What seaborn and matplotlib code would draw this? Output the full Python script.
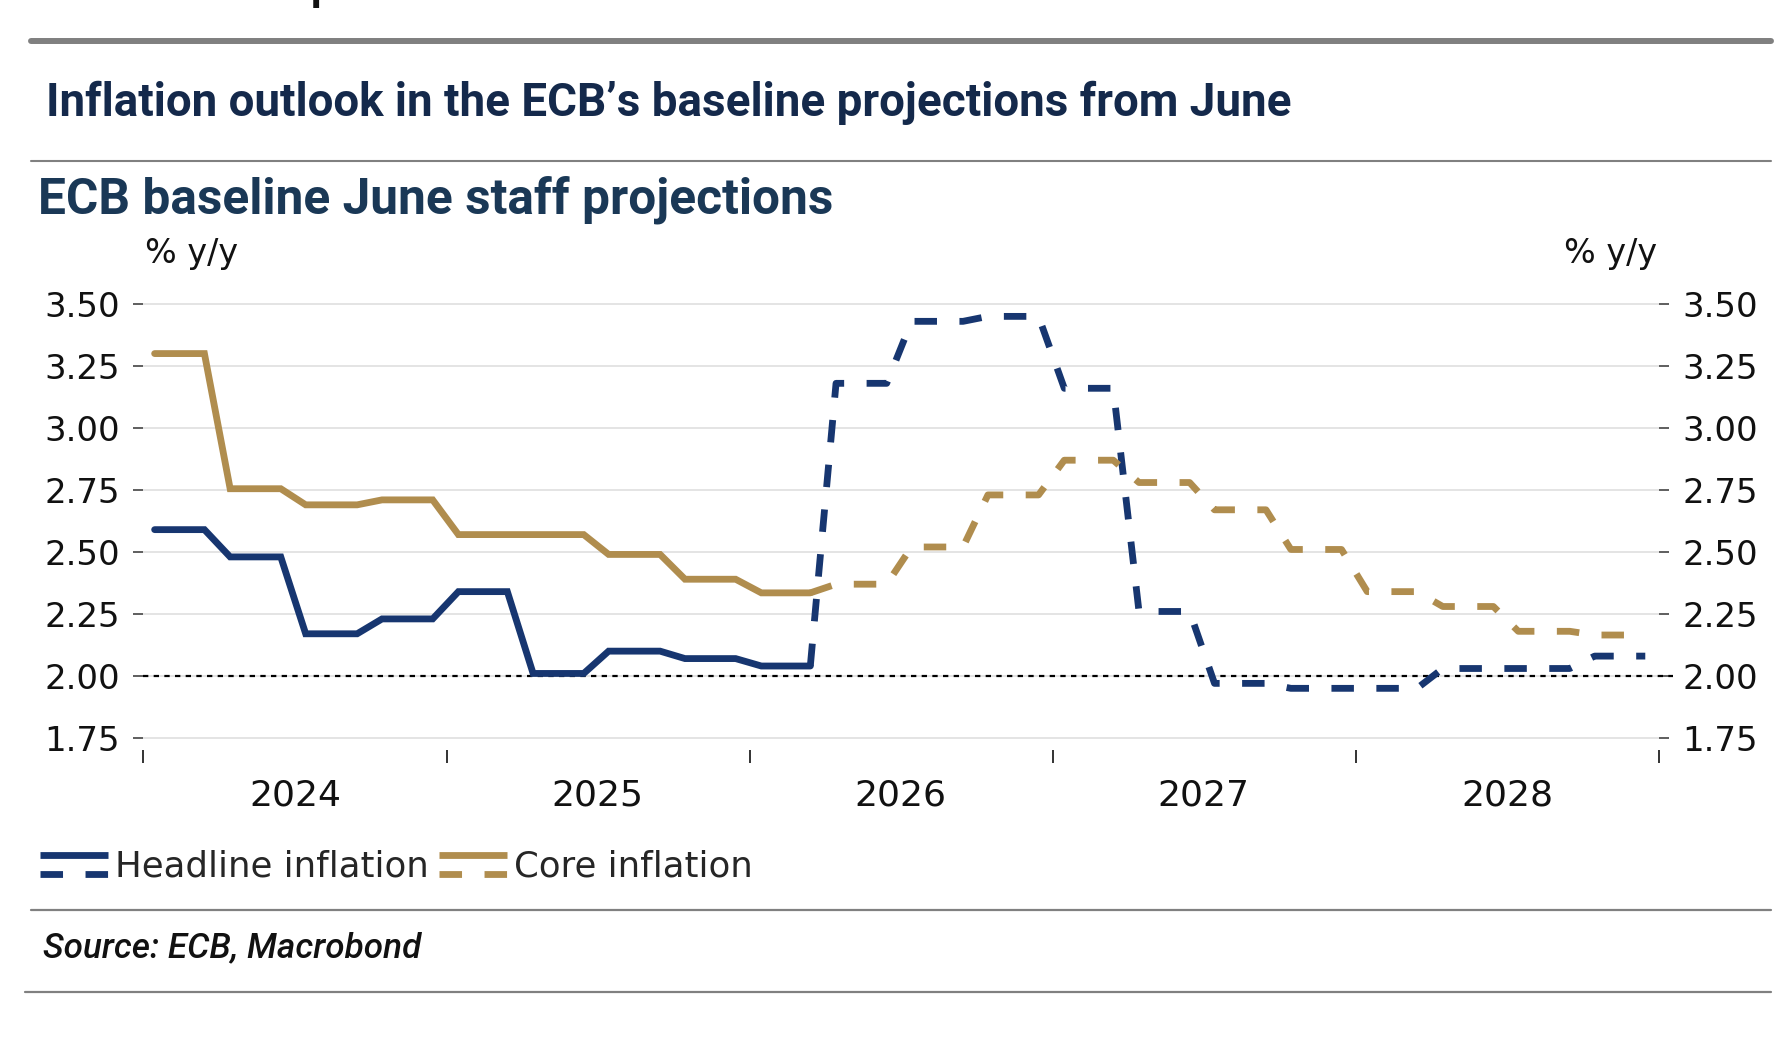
import matplotlib
matplotlib.use("Agg")
import matplotlib.dates as mdates
import matplotlib.pyplot as plt
import matplotlib.ticker as mticker
import numpy as np
import pandas as pd
import seaborn as sns
from matplotlib.legend_handler import HandlerBase
from matplotlib.lines import Line2D

# monthly values, Jan 2024 .. Mar 2026 (outturn)
headline_actual = [2.59, 2.59, 2.59, 2.48, 2.48, 2.48, 2.17, 2.17, 2.17,
                   2.23, 2.23, 2.23, 2.34, 2.34, 2.34, 2.01, 2.01, 2.01,
                   2.10, 2.10, 2.10, 2.07, 2.07, 2.07, 2.04, 2.04, 2.04]
core_actual = [3.30, 3.30, 3.30, 2.755, 2.755, 2.755, 2.69, 2.69, 2.69,
               2.71, 2.71, 2.71, 2.57, 2.57, 2.57, 2.57, 2.57, 2.57,
               2.49, 2.49, 2.49, 2.39, 2.39, 2.39, 2.335, 2.335, 2.335]

# monthly values, Apr 2026 .. Dec 2028 (projection)
headline_proj = [3.18, 3.18, 3.18, 3.43, 3.43, 3.43, 3.45, 3.45, 3.45,
                 3.16, 3.16, 3.16, 2.26, 2.26, 2.26, 1.97, 1.97, 1.97,
                 1.95, 1.95, 1.95, 1.95, 1.95, 1.95, 2.03, 2.03, 2.03,
                 2.03, 2.03, 2.03, 2.08, 2.08, 2.08]
core_proj = [2.37, 2.37, 2.37, 2.52, 2.52, 2.52, 2.73, 2.73, 2.73,
             2.87, 2.87, 2.87, 2.78, 2.78, 2.78, 2.67, 2.67, 2.67,
             2.51, 2.51, 2.51, 2.34, 2.34, 2.34, 2.28, 2.28, 2.28,
             2.18, 2.18, 2.18, 2.165, 2.165, 2.165]

y_ticks = [1.75, 2.00, 2.25, 2.50, 2.75, 3.00, 3.25, 3.50]
years = [2024, 2025, 2026, 2027, 2028]

NAVY = "#173670"
GOLD = "#B08D4E"
GREY = "#808080"
W, H = 1792, 1050

months = pd.date_range("2024-01-01", periods=60, freq="MS") + pd.Timedelta(days=14)
n_act = len(headline_actual)

rows = []
for name, act, proj in [("Headline inflation", headline_actual, headline_proj),
                        ("Core inflation", core_actual, core_proj)]:
    for d, v in zip(months[:n_act], act):
        rows.append({"date": d, "value": v, "series": name, "kind": "Actual"})
    # projection starts from the last outturn so the line is continuous
    for d, v in zip(months[n_act - 1:], [act[-1]] + proj):
        rows.append({"date": d, "value": v, "series": name, "kind": "Projection"})
df = pd.DataFrame(rows)

sns.set_theme(style="white")
plt.rcParams["font.family"] = ["DejaVu Sans"]

fig = plt.figure(figsize=(W / 100, H / 100), dpi=100)
ax = fig.add_axes([0.0798, 0.2854, 0.8462, 0.4369])

sns.lineplot(
    data=df, x="date", y="value", hue="series", style="kind",
    palette={"Headline inflation": NAVY, "Core inflation": GOLD},
    dashes={"Actual": "", "Projection": (3.3, 3.3)},
    estimator=None, linewidth=4.9, legend=False, ax=ax,
    solid_joinstyle="miter",
)
ax.set(xlabel="", ylabel="")

ax.axhline(2.0, color="black", lw=1.6, ls=(0, (2.4, 2.4)), xmax=1.009,
           clip_on=False, zorder=1.5)

# axes styling
for s in ax.spines.values():
    s.set_visible(False)
ax.set_ylim(1.70, 3.55)
ax.set_xlim(pd.Timestamp("2024-01-01"), pd.Timestamp("2029-01-01"))
ax.set_yticks(y_ticks)
ax.yaxis.set_major_formatter(mticker.FormatStrFormatter("%.2f"))
ax.yaxis.grid(True, color="#e2e2e2", lw=1.3)
ax.xaxis.grid(False)
ax.tick_params(axis="y", left=True, right=True, labelleft=True, labelright=True,
               length=7.5, width=1.1, color="#333333", pad=9,
               labelsize=24.5, labelcolor="#111111", direction="out")

ax.xaxis.set_major_locator(mdates.YearLocator())
ax.xaxis.set_major_formatter(mticker.NullFormatter())
ax.xaxis.set_minor_locator(mticker.FixedLocator(
    [mdates.date2num(pd.Timestamp(f"{y}-07-02")) for y in years]))
ax.xaxis.set_minor_formatter(mticker.FixedFormatter([str(y) for y in years]))
ax.tick_params(axis="x", which="major", length=9, width=1.4, color="#333333",
               direction="out", bottom=True)
ax.tick_params(axis="x", which="minor", length=0, pad=20, labelsize=26,
               labelcolor="#111111")

fig.text(145 / W, 1 - 254 / H, "% y/y", fontsize=24, va="center", ha="left",
         color="#111111")
fig.text(1657 / W, 1 - 254 / H, "% y/y", fontsize=24, va="center", ha="right",
         color="#111111")


# legend: solid bar on top, dashed bar below
class SplitHandler(HandlerBase):
    def create_artists(self, legend, orig_handle, xdescent, ydescent,
                       width, height, fontsize, trans):
        c = orig_handle.get_color()
        lw = 4.9
        x0, x1 = -xdescent, -xdescent + width
        top = Line2D([x0, x1], [0.8 * height - ydescent] * 2, color=c, lw=lw,
                     solid_capstyle="butt", transform=trans)
        seg = width / 3 / lw
        bot = Line2D([x0, x1], [0.2 * height - ydescent] * 2, color=c, lw=lw,
                     ls=(0, (seg, seg)), dash_capstyle="butt", transform=trans)
        return [top, bot]


handles = [Line2D([], [], color=NAVY), Line2D([], [], color=GOLD)]
fig.legend(handles, ["Headline inflation", "Core inflation"],
           handler_map={Line2D: SplitHandler()},
           loc="center left", bbox_to_anchor=(40 / W, 1 - 866 / H),
           ncol=2, frameon=False, fontsize=25.6, handlelength=1.9,
           handleheight=1.0, handletextpad=0.2, columnspacing=0.3,
           borderpad=0, borderaxespad=0)

# header / footer text
title = fig.text(46 / W, 1 - 103 / H, "Inflation outlook in the ECB’s baseline projections from June",
                 fontsize=30, fontweight="bold", color="#14294B", va="center",
                 family="Roboto")
subtitle = fig.text(38 / W, 1 - 200 / H, "ECB baseline June staff projections",
                    fontsize=30, fontweight="bold", color="#1A3856", va="center",
                    family="Roboto")
source = fig.text(43 / W, 1 - 948 / H, "Source: ECB, Macrobond", fontsize=22,
                  fontstyle="italic", fontweight="medium", color="#111111",
                  va="center", family="Roboto")
fig.text(311 / W, 1 + 1 / H, "p", fontsize=30, fontweight="bold", color="#111111",
         va="baseline", family="Roboto")

# scale header/footer text to the reference widths
fig.canvas.draw()
renderer = fig.canvas.get_renderer()
for t, target in [(title, 1243), (subtitle, 794), (source, 378)]:
    w = t.get_window_extent(renderer).width
    t.set_fontsize(t.get_fontsize() * target / w)

# separator rules
for y, lw, x0 in [(41, 4.3, 31), (161, 1.5, 31), (910, 1.6, 31), (992, 1.6, 25)]:
    fig.add_artist(Line2D([x0 / W, 1771 / W], [1 - y / H] * 2, color=GREY, lw=lw,
                          transform=fig.transFigure))

fig.savefig("out.png", dpi=100)
